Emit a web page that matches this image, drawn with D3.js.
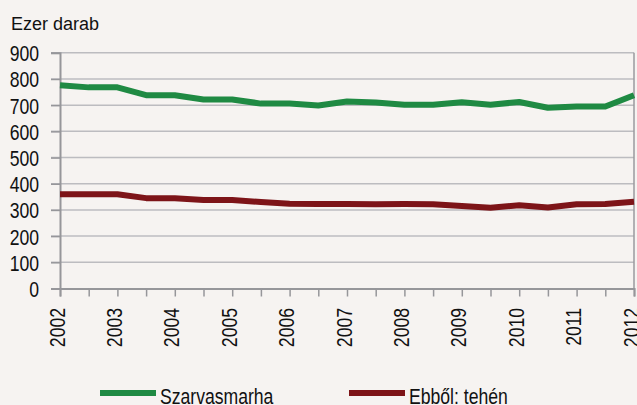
<!DOCTYPE html>
<html>
<head>
<meta charset="utf-8">
<script src="https://cdn.jsdelivr.net/npm/d3@7"></script>
<style>
  body { margin: 0; background: #f6f3f1; }
  svg { display: block; }
</style>
</head>
<body>
<div id="chart"></div>
<script>
// half-year steps, 2002 .. 2012
const periods = d3.range(0, 21).map((i) => 2002 + i / 2);
const yearLabels = d3.range(2002, 2013);
const cattle = [776, 768, 768, 738, 738, 722, 722, 706, 706, 699, 714, 710, 702, 702, 711, 702, 712, 690, 695, 695, 738];
const cows = [360, 360, 360, 345, 345, 338, 338, 330, 324, 323, 323, 322, 323, 322, 315, 308, 318, 309, 322, 323, 331];
const yTicks = d3.range(0, 1000, 100);

const series = [
  { name: "Szarvasmarha", values: cattle, color: "#1f8a43" },
  { name: "Ebből: tehén", values: cows, color: "#7d1418" },
];

const width = 637,
  height = 405;
const font = "'Liberation Sans', Arial, sans-serif";
const squeeze = "scale(0.8,1)"; // no narrow font installed, so compress horizontally

const svg = d3.select("#chart").append("svg").attr("width", width).attr("height", height);

const x = d3.scaleLinear().domain([2002, 2012]).range([60, 634]);
const y = d3.scaleLinear().domain([0, 900]).range([288.5, 52.8]);

// unit label
svg
  .append("text")
  .attr("x", 11)
  .attr("y", 30)
  .attr("font-family", font)
  .attr("font-size", 18)
  .attr("fill", "#111")
  .text("Ezer darab");

// gridlines
svg
  .append("g")
  .selectAll("line")
  .data(yTicks.filter((d) => d > 0))
  .join("line")
  .attr("x1", 51)
  .attr("x2", x(2012))
  .attr("y1", (d) => y(d))
  .attr("y2", (d) => y(d))
  .attr("stroke", "#bcbcc0")
  .attr("stroke-width", 1.5);

// right border
svg
  .append("line")
  .attr("x1", x(2012))
  .attr("x2", x(2012))
  .attr("y1", y(900))
  .attr("y2", y(0))
  .attr("stroke", "#9a9a9e")
  .attr("stroke-width", 1.5);

// y axis
const yAxis = svg
  .append("g")
  .attr("transform", `translate(${x(2002)},0)`)
  .call(d3.axisLeft(y).tickValues(yTicks).tickSize(9));
yAxis.select(".domain").attr("stroke", "#96969a").attr("stroke-width", 2);
yAxis.selectAll(".tick line").attr("stroke", "#96969a").attr("stroke-width", 1.5);
yAxis
  .selectAll(".tick text")
  .attr("x", 0)
  .attr("transform", `translate(-21,0) ${squeeze}`)
  .attr("font-family", font)
  .attr("font-size", 22)
  .attr("fill", "#111")
  .attr("dy", "0.36em");

// x axis
const xAxis = svg
  .append("g")
  .attr("transform", `translate(0,${y(0)})`)
  .call(d3.axisBottom(x).tickValues(periods).tickSize(8).tickFormat(() => ""));
xAxis.select(".domain").attr("stroke", "#96969a").attr("stroke-width", 2);
xAxis.selectAll(".tick line").attr("stroke", "#96969a").attr("stroke-width", 1.5);

svg
  .append("g")
  .selectAll("text")
  .data(yearLabels)
  .join("text")
  .attr("transform", (d) => `translate(${x(d) + 4.5},308) rotate(-90) ${squeeze}`)
  .attr("text-anchor", "end")
  .attr("font-family", font)
  .attr("font-size", 22)
  .attr("fill", "#111")
  .text((d) => d);

// lines
const line = d3
  .line()
  .x((d, i) => x(periods[i]))
  .y((d) => y(d));

svg
  .append("g")
  .selectAll("path")
  .data(series)
  .join("path")
  .attr("d", (d) => line(d.values))
  .attr("fill", "none")
  .attr("stroke", (d) => d.color)
  .attr("stroke-width", 6)
  .attr("stroke-linejoin", "round");

// legend
const legendX = [100, 349];
const legend = svg
  .append("g")
  .selectAll("g")
  .data(series)
  .join("g")
  .attr("transform", (d, i) => `translate(${legendX[i]},393)`);
legend
  .append("line")
  .attr("x1", 0)
  .attr("x2", 56)
  .attr("stroke", (d) => d.color)
  .attr("stroke-width", 6);
legend
  .append("text")
  .attr("transform", `translate(60,11) ${squeeze}`)
  .attr("font-family", font)
  .attr("font-size", 22)
  .attr("fill", "#111")
  .text((d) => d.name);
</script>
</body>
</html>
